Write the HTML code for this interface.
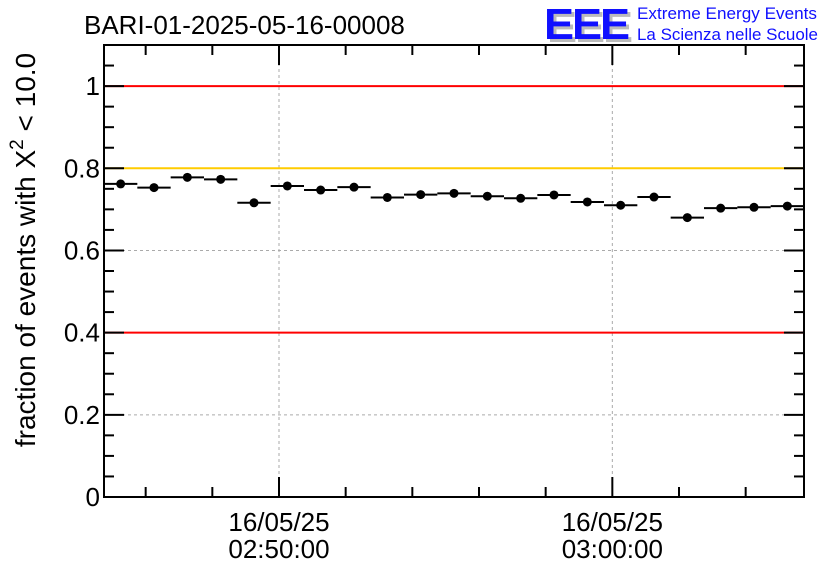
<!DOCTYPE html>
<html><head><meta charset="utf-8"><style>
body{margin:0;background:#fff;}
svg{display:block;font-family:"Liberation Sans",sans-serif;}
</style></head><body>
<svg id="c" width="836" height="572">
<text x="84" y="34" font-size="26">BARI-01-2025-05-16-00008</text>
<g>
<text x="547" y="42" font-size="44" font-weight="bold" fill="#bbb" letter-spacing="-2" textLength="84" lengthAdjust="spacingAndGlyphs">EEE</text>
<text x="544" y="39" font-size="44" font-weight="bold" fill="#1010ff" letter-spacing="-2" textLength="84" lengthAdjust="spacingAndGlyphs">EEE</text>
<text x="637" y="19" font-size="17" fill="#1010ff" textLength="180" lengthAdjust="spacingAndGlyphs">Extreme Energy Events</text>
<text x="637" y="40" font-size="17" fill="#1010ff" textLength="181" lengthAdjust="spacingAndGlyphs">La Scienza nelle Scuole</text>
</g>
<text transform="translate(35,250) rotate(-90)" text-anchor="middle" font-size="28">fraction of events with X<tspan dy="-12" font-size="19">2</tspan><tspan dy="12"> &lt; 10.0</tspan></text>
<g id="plot"></g>
</svg>
<script>
const times = [-4.75,-3.75,-2.75,-1.75,-0.75,0.25,1.25,2.25,3.25,4.25,5.25,6.25,7.25,8.25,9.25,10.25,11.25,12.25,13.25,14.25,15.25];
const fractions = [0.762,0.753,0.778,0.773,0.716,0.757,0.747,0.754,0.729,0.736,0.739,0.732,0.727,0.735,0.718,0.710,0.730,0.680,0.703,0.705,0.708];
const yTicks = [0,0.2,0.4,0.6,0.8,1];
const yTickLabels = ["0","0.2","0.4","0.6","0.8","1"];
const xTicks = [0,10];
const xTickLabels = [["16/05/25","02:50:00"],["16/05/25","03:00:00"]];
const refLines = [1,0.8,0.4];
const refColors = ["#ff0000","#ffcc00","#ff0000"];

const L=104,R=804,T=45,B=497,xmin=-5.25,xmax=15.75,ymin=0,ymax=1.1;
const X=v=>L+(v-xmin)/(xmax-xmin)*(R-L);
const Y=v=>B-(v-ymin)/(ymax-ymin)*(B-T);
const g=document.getElementById('plot');
const NS='http://www.w3.org/2000/svg';
function mk(tag,attrs,name){const e=document.createElementNS(NS,tag);for(const k in attrs)e.setAttribute(k,attrs[k]);


g.appendChild(e);return e;}
yTicks.forEach(v=>{if(v>0)mk('line',{x1:L,x2:R,y1:Y(v),y2:Y(v),stroke:'#aaa','stroke-dasharray':'3,3','stroke-width':1},'y-grid-line');});
xTicks.forEach(v=>mk('line',{x1:X(v),x2:X(v),y1:T,y2:B,stroke:'#aaa','stroke-dasharray':'3,3','stroke-width':1},'x-grid-line'));
refLines.forEach((v,i)=>mk('line',{x1:L,x2:R,y1:Y(v),y2:Y(v),stroke:refColors[i],'stroke-width':2},'reference-line'));
mk('rect',{x:L,y:T,width:R-L,height:B-T,fill:'none',stroke:'#000','stroke-width':2},'plot-frame');
for(let k=0;k<=22;k++){const v=k*0.05;const major=k%4==0;const len=major?20:10;
mk('line',{x1:L,x2:L+len,y1:Y(v),y2:Y(v),stroke:'#000','stroke-width':2},'y-tick');
mk('line',{x1:R,x2:R-len,y1:Y(v),y2:Y(v),stroke:'#000','stroke-width':2},'y-tick-right');}
yTicks.forEach((v,i)=>{const t=mk('text',{x:L-4,y:Y(v)+9,'text-anchor':'end','font-size':26},'y-tick-label');t.textContent=yTickLabels[i];});
for(let m=-4;m<=15;m+=2){const major=(m%10==0);const len=major?20:10;
mk('line',{x1:X(m),x2:X(m),y1:B,y2:B-len,stroke:'#000','stroke-width':2},'x-tick');
mk('line',{x1:X(m),x2:X(m),y1:T,y2:T+len,stroke:'#000','stroke-width':2},'x-tick-top');}
xTicks.forEach((v,i)=>{xTickLabels[i].forEach((s,j)=>{const t=mk('text',{x:X(v),y:531+j*27,'text-anchor':'middle','font-size':26},'x-tick-label');t.textContent=s;});});
times.forEach((t,i)=>{const y=Y(fractions[i]);
mk('line',{x1:X(t-0.5),x2:X(t+0.5),y1:y,y2:y,stroke:'#000','stroke-width':2},'error-bar');
mk('circle',{cx:X(t),cy:y,r:4.5,fill:'#000'},'data-point');});
</script>
</body></html>
